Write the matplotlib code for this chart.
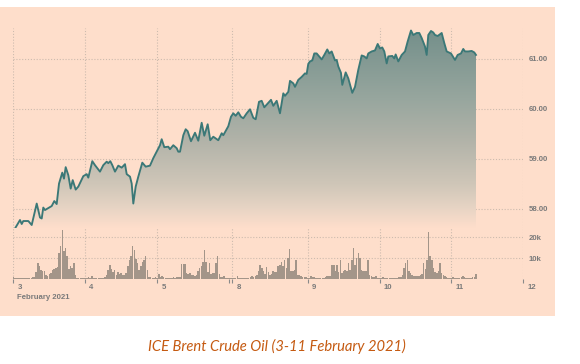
import numpy as np
import matplotlib
matplotlib.use("Agg")
import matplotlib.pyplot as plt
from matplotlib.colors import LinearSegmentedColormap
from matplotlib.patches import Rectangle

# x axis = ICE trading hours elapsed since 3 Feb 2021 01:00 (London)
day_labels = ["3", "4", "5", "8", "9", "10", "11", "12"]
day_ticks_h = [0, 22, 44, 67, 90, 112, 134, 156]
weekend_break_h = [66]
session_start_h = [0, 22, 44, 66, 90, 112, 134]

price_h = [0.52, 2.05, 2.57, 3.06, 4.59, 5.63, 7.16, 8.17, 8.69, 9.17, 9.69, 11.74, 12.54, 13.27,
           13.98, 14.98, 15.50, 16.02, 16.82, 17.55, 18.17, 19.08, 19.88, 21.41, 22.45, 22.94,
           24.16, 24.98, 26.51, 27.52, 28.56, 29.05, 29.66, 30.28, 31.10, 32.11, 33.15, 34.16,
           34.68, 35.69, 36.21, 36.70, 37.43, 38.23, 39.45, 40.49, 41.80, 42.81, 43.85, 44.86,
           45.38, 46.18, 47.40, 47.92, 48.93, 49.97, 50.46, 50.98, 51.99, 52.72, 53.33, 54.34,
           55.57, 56.57, 57.61, 58.41, 59.45, 60.24, 61.16, 62.69, 63.73, 64.22, 65.75, 66.57,
           67.28, 68.01, 68.81, 69.63, 70.34, 71.38, 72.39, 73.39, 74.13, 75.14, 75.96, 76.76,
           77.98, 78.81, 79.51, 80.55, 81.56, 82.57, 83.09, 84.10, 84.62, 85.63, 86.15, 87.16,
           88.20, 89.20, 89.72, 90.21, 90.73, 91.44, 92.05, 92.78, 94.31, 95.11, 96.02, 96.64,
           97.37, 98.38, 98.90, 99.39, 100.21, 100.61, 101.65, 102.45, 103.67, 104.50, 105.50,
           106.54, 107.34, 108.07, 108.56, 109.60, 110.61, 111.44, 112.14, 112.84, 113.46,
           114.19, 114.68, 115.90, 116.51, 116.94, 117.74, 118.78, 119.79, 120.61, 121.62,
           122.32, 123.36, 124.16, 124.89, 125.90, 126.42, 126.91, 127.74, 128.44, 128.96,
           129.79, 131.01, 131.80, 132.54, 133.85, 135.08, 135.90, 136.91, 137.61, 138.13,
           139.14, 140.18, 140.98, 141.50]
price = [57.60, 57.77, 57.69, 57.75, 57.75, 57.67, 58.10, 57.82, 57.80, 58.02, 57.97, 58.05, 58.15,
         58.09, 58.50, 58.72, 58.60, 58.83, 58.67, 58.40, 58.57, 58.38, 58.44, 58.65, 58.69, 58.62,
         58.95, 58.87, 58.74, 58.87, 58.94, 58.91, 58.95, 58.87, 58.74, 58.86, 58.82, 58.89, 58.69,
         58.64, 58.50, 58.10, 58.44, 58.64, 58.92, 58.84, 58.86, 59.01, 59.14, 59.27, 59.39, 59.23,
         59.24, 59.19, 59.27, 59.21, 59.14, 59.14, 59.47, 59.59, 59.55, 59.35, 59.52, 59.36, 59.72,
         59.46, 59.69, 59.37, 59.44, 59.37, 59.51, 59.47, 59.65, 59.84, 59.91, 59.86, 59.93, 59.84,
         59.81, 59.91, 59.99, 59.82, 59.79, 60.14, 60.16, 60.03, 60.12, 60.18, 60.06, 60.16, 59.91,
         60.31, 60.26, 60.34, 60.56, 60.51, 60.44, 60.58, 60.64, 60.71, 60.70, 60.90, 60.95, 60.97,
         61.11, 61.11, 60.99, 61.08, 61.19, 61.11, 61.15, 60.97, 60.98, 60.85, 60.72, 60.48, 60.73,
         60.61, 60.32, 60.44, 60.78, 61.07, 61.05, 61.01, 61.11, 61.15, 61.17, 61.30, 61.21, 61.23,
         61.15, 60.91, 61.05, 61.06, 61.01, 61.09, 60.95, 61.08, 61.15, 61.35, 61.57, 61.48, 61.52,
         61.52, 61.42, 61.25, 61.08, 61.48, 61.56, 61.53, 61.48, 61.46, 61.52, 61.32, 61.15, 61.11,
         60.98, 61.08, 61.11, 61.20, 61.15, 61.15, 61.16, 61.13, 61.08]

# 30-minute volume (thousands of lots), one list per session
vol_feb3 = [0.8, 0.6, 0.5, 0.5, 0.4, 0.5, 0.6, 0.5, 0.4, 0.5, 0.6, 0.7, 0.8, 0.9,
            3.2, 7.6, 6.0, 4.4, 3.7, 4.0, 2.1, 1.6, 2.5, 2.9, 4.3, 4.8, 5.2, 5.6, 12.4, 15.9,
            23.2, 13.2, 14.8, 11.1, 4.8, 6.0, 5.2, 7.6, 2.1, 0.6, 0.5, 0.4, 0.5, 0.6]
vol_feb4 = [0.5, 0.6, 0.8, 0.5, 1.3, 0.6, 0.5, 0.4, 0.6, 0.5, 0.7, 0.6, 0.8,
            2.1, 4.4, 6.5, 4.8, 3.2, 4.4, 2.1, 3.2, 2.5, 2.9, 2.1, 2.1, 2.9, 6.0, 9.2, 10.8,
            15.9, 13.6, 9.5, 7.6, 4.4, 6.0, 7.9, 9.2, 11.1, 4.4, 1.0, 0.8, 0.6, 0.5, 0.8]
vol_feb5 = [0.6, 2.2, 0.8, 1.6, 0.8, 0.5, 0.6, 0.5, 0.7, 0.6, 0.8, 0.6, 1.0, 0.9, 1.1,
            7.3, 7.3, 7.3, 2.9, 2.5, 2.9, 2.1, 1.8, 1.6, 2.0, 3.7, 5.2, 6.3, 7.9, 13.6, 7.9,
            3.2, 7.6, 2.5, 2.9, 2.9, 7.6, 11.1, 2.5, 1.0, 0.8, 1.2, 0.6, 0.5]
vol_feb8 = [0.4, 0.3, 0.5, 0.3, 0.6, 1.6, 0.6, 0.5, 0.5, 0.4, 0.6, 0.5, 0.7, 0.8, 1.6, 1.0,
            1.4, 2.1, 3.7, 6.8, 5.2, 3.7, 2.5, 5.7, 3.2, 2.1, 2.5, 3.7, 3.2, 3.2, 6.0, 6.8,
            7.9, 6.0, 9.2, 5.2, 10.0, 14.3, 3.7, 3.7, 4.4, 9.2, 2.1, 1.8, 1.6, 1.0, 0.9, 0.9]
vol_feb9 = [0.5, 0.4, 1.3, 0.8, 1.0, 0.6, 0.5, 0.5, 0.6, 0.7, 0.5, 0.8, 1.3, 1.6, 1.2,
            6.8, 6.8, 3.7, 6.8, 3.2, 8.9, 2.9, 3.7, 4.4, 3.7, 7.6, 4.1, 9.2, 14.8, 6.8, 10.0,
            12.4, 10.0, 4.1, 3.7, 3.7, 3.7, 8.9, 2.1, 1.2, 1.0, 0.8, 1.3, 0.6]
vol_feb10 = [0.5, 0.6, 0.8, 0.5, 0.4, 0.5, 0.6, 0.4, 0.5, 0.6, 0.7, 0.6, 0.8, 1.0,
             2.1, 5.2, 7.6, 8.9, 3.7, 2.9, 2.1, 1.6, 1.4, 1.3, 1.6, 2.0, 2.5, 7.6, 4.8, 9.2,
             22.2, 11.1, 9.2, 5.2, 3.2, 2.9, 3.7, 7.6, 2.9, 2.1, 1.6, 0.8, 0.6, 0.5]
vol_feb11 = [0.6, 0.8, 0.5, 0.4, 0.6, 0.5, 0.9, 1.6, 1.0, 0.6, 0.5, 0.7, 0.6, 0.9, 0.8, 2.4]

price_ticks = [58, 59, 60, 61]
vol_ticks = [10, 20]
vol_tick_labels = ["10k", "20k"]
caption = "ICE Brent Crude Oil (3-11 February 2021)"

assert len(price_h) == len(price), (len(price_h), len(price))

# ---------------- styling ----------------
W, H = 580, 364
BG = "#FEDECB"
LINE = "#3B7877"
BAR = "#A39589"
GRID = "#CDBBAE"
LBL = "#7A7A7A"
TICKFONT = dict(family="Liberation Sans", size=5.6, color=LBL, weight="bold")

fig = plt.figure(figsize=(W / 100, H / 100), dpi=100)
fig.patch.set_facecolor("white")
fig.patches.append(Rectangle((0, 1 - 316 / H), 555 / W, 309 / H,
                             transform=fig.transFigure, facecolor=BG,
                             edgecolor="none", zorder=-10))

left = 13.3 / W
width = (523.4 - 13.3) / W
ax = fig.add_axes([left, 1 - 228 / H, width, 200 / H])
axv = fig.add_axes([left, 1 - 279 / H, width, 51 / H])

xlim = (day_ticks_h[0], day_ticks_h[-1])
ylim = (57.61, 61.62)

for a in (ax, axv):
    a.set_facecolor("none")
    a.set_zorder(1)
    for s in a.spines.values():
        s.set_visible(False)
    a.set_xlim(*xlim)
    a.set_xticks(day_ticks_h)
    a.grid(True, axis="both", color=GRID, linestyle=(0, (1, 1.6)), linewidth=0.8)
    a.set_axisbelow(True)
    a.yaxis.tick_right()
    a.tick_params(axis="y", length=0, pad=3.6, labelright=True, labelleft=False)

# price panel
cmap = LinearSegmentedColormap.from_list(
    "fade", [(0.0, "#738F8A"), (0.35, "#97A69E"), (0.55, "#B0B2A8"),
             (0.78, "#CFC6B8"), (0.9, "#E7D4C4"), (1.0, BG)])
grad = np.linspace(0, 1, 256)[:, None]
poly = ax.fill_between(price_h, price, ylim[0], facecolor="none", edgecolor="none")
im = ax.imshow(grad, extent=[xlim[0], xlim[1], ylim[0], ylim[1]], origin="upper",
               cmap=cmap, aspect="auto", zorder=1, interpolation="bilinear")
im.set_clip_path(poly.get_paths()[0], transform=ax.transData)
ax.plot(price_h, price, color=LINE, linewidth=1.35, zorder=3, solid_joinstyle="round")
ax.set_ylim(*ylim)
ax.set_xlim(*xlim)
ax.set_yticks(price_ticks)
ax.set_yticklabels([f"{v:.2f}" for v in price_ticks], **TICKFONT)
ax.tick_params(axis="x", length=0, labelbottom=False)

# volume panel
vol_days = [vol_feb3, vol_feb4, vol_feb5, vol_feb8, vol_feb9, vol_feb10, vol_feb11]
for start, vols in zip(session_start_h, vol_days):
    xs = [start + 0.5 * i for i in range(len(vols))]
    axv.bar(xs, vols, width=0.47, color=BAR, linewidth=0, zorder=2)
axv.set_ylim(0, 24.3)
axv.set_xlim(*xlim)
axv.set_yticks(vol_ticks)
axv.set_yticklabels(vol_tick_labels, **TICKFONT)
axv.set_xticks(weekend_break_h, minor=True)
axv.tick_params(axis="x", which="both", direction="out", length=3.2, width=0.8,
                color="#8A8A8A", labelbottom=False)
for h, lbl in zip(day_ticks_h, day_labels):
    axv.annotate(lbl, xy=(h, 0), xycoords=("data", "axes fraction"),
                 xytext=(3.0, -6.4), textcoords="offset points",
                 ha="left", va="center", **TICKFONT)
axv.annotate("February 2021", xy=(day_ticks_h[0], 0), xycoords=("data", "axes fraction"),
             xytext=(2.7, -13.0), textcoords="offset points",
             ha="left", va="center", **TICKFONT)

fig.text(276.5 / W, 1 - 346 / H, caption, ha="center", va="center",
         family="Lato", style="italic", fontsize=10.6, color="#C55A11")

fig.savefig("out.png", dpi=100, facecolor="white")
